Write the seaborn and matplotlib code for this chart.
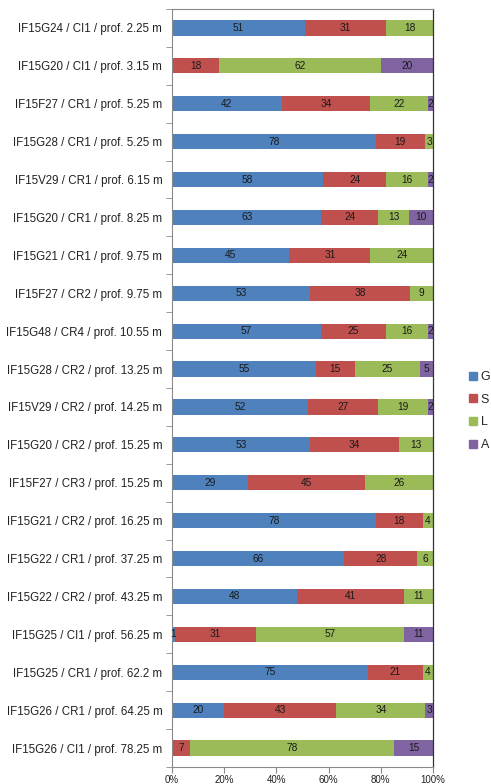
import numpy as np
import pandas as pd
import matplotlib.pyplot as plt
import seaborn as sns
from matplotlib.lines import Line2D

muestras = [
    "IF15G24 / CI1 / prof. 2.25 m",
    "IF15G20 / CI1 / prof. 3.15 m",
    "IF15F27 / CR1 / prof. 5.25 m",
    "IF15G28 / CR1 / prof. 5.25 m",
    "IF15V29 / CR1 / prof. 6.15 m",
    "IF15G20 / CR1 / prof. 8.25 m",
    "IF15G21 / CR1 / prof. 9.75 m",
    "IF15F27 / CR2 / prof. 9.75 m",
    "IF15G48 / CR4 / prof. 10.55 m",
    "IF15G28 / CR2 / prof. 13.25 m",
    "IF15V29 / CR2 / prof. 14.25 m",
    "IF15G20 / CR2 / prof. 15.25 m",
    "IF15F27 / CR3 / prof. 15.25 m",
    "IF15G21 / CR2 / prof. 16.25 m",
    "IF15G22 / CR1 / prof. 37.25 m",
    "IF15G22 / CR2 / prof. 43.25 m",
    "IF15G25 / CI1 / prof. 56.25 m",
    "IF15G25 / CR1 / prof. 62.2 m",
    "IF15G26 / CR1 / prof. 64.25 m",
    "IF15G26 / CI1 / prof. 78.25 m",
]
g_vals = [51, 0, 42, 78, 58, 63, 45, 53, 57, 55, 52, 53, 29, 78, 66, 48, 1, 75, 20, 0]
s_vals = [31, 18, 34, 19, 24, 24, 31, 38, 25, 15, 27, 34, 45, 18, 28, 41, 31, 21, 43, 7]
l_vals = [18, 62, 22, 3, 16, 13, 24, 9, 16, 25, 19, 13, 26, 4, 6, 11, 57, 4, 34, 78]
a_vals = [0, 20, 2, 0, 2, 10, 0, 0, 2, 5, 2, 0, 0, 0, 0, 0, 11, 0, 3, 15]

clases = ["G", "S", "L", "A"]
colores = ["#4F81BD", "#C0504D", "#9BBB59", "#8064A2"]

df = pd.DataFrame({"muestra": muestras, "G": g_vals, "S": s_vals,
                   "L": l_vals, "A": a_vals})
total = df[clases].sum(axis=1)
pct = df[clases].div(total, axis=0) * 100
acum = pct.cumsum(axis=1)

sns.set_style("white")
plt.rcParams["font.family"] = ["Liberation Sans", "DejaVu Sans"]

fig = plt.figure(figsize=(4.91, 7.84), dpi=100)
ax = fig.add_axes([172 / 491, 17 / 784, 261 / 491, 758 / 784])

# barras apiladas: se dibuja el acumulado de mayor a menor
for k in reversed(range(len(clases))):
    sns.barplot(x=acum[clases[k]], y=df["muestra"], color=colores[k],
                orient="h", width=0.4, saturation=1, edgecolor="none", ax=ax)

for i in range(len(df)):
    for c in clases:
        v = df.loc[i, c]
        if v > 0:
            xc = acum.loc[i, c] - pct.loc[i, c] / 2
            ax.text(xc, i, str(v), ha="center", va="center",
                    fontsize=7.3, color="#1a1a1a")

ax.set_xlim(0, 100)
ax.set_ylim(len(df) - 0.5, -0.5)
ax.set_xticks(np.arange(0, 101, 20))
ax.set_xticklabels([f"{v}%" for v in range(0, 101, 20)])
ax.set_yticks(range(len(df)))
ax.set_yticklabels(muestras)
ax.set_yticks(np.arange(-0.5, len(df), 1), minor=True)
ax.set_xlabel("")
ax.set_ylabel("")

ax.tick_params(axis="y", which="major", length=0, pad=7,
               labelsize=8.3, labelcolor="#222222")
ax.tick_params(axis="y", which="minor", left=True, length=4,
               color="#898989", direction="out")
ax.tick_params(axis="x", which="major", bottom=True, length=4,
               color="#898989", direction="out", labelsize=7,
               labelcolor="#222222", pad=2)

for lado in ["left", "bottom", "top"]:
    ax.spines[lado].set_color("#898989")
    ax.spines[lado].set_linewidth(0.8)
ax.spines["right"].set_color("#333333")
ax.spines["right"].set_linewidth(0.9)

handles = [Line2D([], [], marker="s", linestyle="", color=c, markersize=5.5)
           for c in colores]
fig.legend(handles, clases, loc="center left",
           bbox_to_anchor=(463 / 491, 1 - 411 / 784), frameon=False,
           fontsize=9, handletextpad=0.2, labelspacing=0.85,
           handlelength=0.8, borderaxespad=0)

fig.savefig("out.png", dpi=100)
